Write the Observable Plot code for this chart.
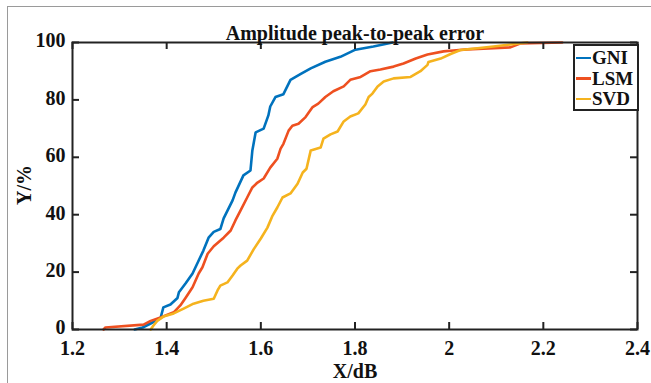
<!DOCTYPE html>
<html>
<head>
<meta charset="utf-8">
<script src="https://cdn.jsdelivr.net/npm/d3@7"></script>
<script src="https://cdn.jsdelivr.net/npm/@observablehq/plot@0.6"></script>
<style>
  html, body { margin: 0; padding: 0; background: #fff; }
  #wrap { position: relative; width: 651px; height: 383px; overflow: hidden; }
  #bt { position: absolute; left: 7px; top: 6px; width: 644px; height: 1px; background: #9a9a9a; }
  #bl { position: absolute; left: 7px; top: 6px; width: 1px; height: 377px; background: #9a9a9a; }
  #legend { position: absolute; left: 573px; top: 44px; width: 62px; height: 63px; border: 2px solid #222; background: #fff;
            font-family: "Liberation Serif", serif; font-weight: bold; font-size: 19px; color: #111; }
  .row { position: absolute; left: 0; height: 20px; display: flex; align-items: center; }
  .sw { width: 15px; height: 2.5px; margin-left: 1px; margin-right: 1px; }
</style>
</head>
<body>
<div id="wrap">
  <div id="bt"></div><div id="bl"></div>
  <div id="chart"></div>
  <div id="legend"></div>
</div>
<script>
const title = "Amplitude peak-to-peak error";
const xLabel = "X/dB";
const yLabel = "Y/%";
const xTicks = [1.2, 1.4, 1.6, 1.8, 2, 2.2, 2.4];
const yTicks = [0, 20, 40, 60, 80, 100];
const seriesNames = ["GNI", "LSM", "SVD"];
const colors = ["#0072BD", "#EE5020", "#F5B31E"];

const gniX = [1.332,1.349,1.365,1.387,1.393,1.408,1.423,1.426,1.44,1.455,1.465,1.478,1.489,1.50,1.514,1.521,1.540,1.546,1.563,1.578,1.582,1.589,1.606,1.616,1.62,1.631,1.648,1.663,1.684,1.706,1.737,1.769,1.801,1.839,1.88];
const gniY = [0,0.7,2,4,7.7,8.7,11,13,16,19.5,23,27.5,32,34,35,38.7,45,47.7,53.7,55.4,62.4,68.7,70,74.6,77.7,81,82,87,89,91,93.3,95,97.5,98.6,100];

const lsmX = [1.266,1.27,1.351,1.366,1.387,1.415,1.429,1.44,1.455,1.468,1.476,1.487,1.50,1.521,1.536,1.546,1.557,1.571,1.582,1.593,1.606,1.62,1.635,1.642,1.648,1.659,1.667,1.68,1.695,1.71,1.722,1.737,1.754,1.776,1.79,1.812,1.833,1.854,1.882,1.903,1.929,1.954,1.988,2.009,2.039,2.13,2.152,2.24];
const lsmY = [0,0.7,1.7,3,4.2,6,8.4,11,14.7,19.5,21.7,26.4,29,32,34.5,38,41.5,46,49.5,51.2,52.6,56.4,59.5,63,64.7,69.3,71,71.7,74,77.5,78.7,81,83,84.7,87,88,90,90.6,91.6,92.7,94.4,95.8,96.9,97.2,97.6,98.3,99.7,100];

const svdX = [1.366,1.372,1.38,1.393,1.415,1.436,1.457,1.478,1.50,1.508,1.514,1.529,1.54,1.55,1.557,1.571,1.585,1.60,1.614,1.625,1.635,1.646,1.663,1.678,1.689,1.697,1.706,1.727,1.733,1.748,1.763,1.776,1.79,1.807,1.822,1.829,1.837,1.848,1.861,1.882,1.918,1.939,1.954,1.956,1.982,2.003,2.024,2.06,2.094,2.13,2.166];
const svdY = [0,1.4,3,4.5,5.6,7.3,9,10,10.7,13.6,15.3,16.4,18.8,21.2,22.3,24,28,31.7,35.5,39.7,42.5,46,47.4,50.8,54.7,56,62.4,63.4,66.5,68,69,72.5,74.2,75.3,78.4,81,82.2,84.7,86.4,87.5,88,90,92.2,93.2,94.4,96,97.4,98,98.6,99.3,100];

const toRows = (xs, ys) => xs.map((x, i) => ({x, y: ys[i]}));
const series = [toRows(gniX, gniY), toRows(lsmX, lsmY), toRows(svdX, svdY)];

const W = 651, H = 383, mL = 72, mR = 14, mT = 42, mB = 54;
const innerW = W - mL - mR, innerH = H - mT - mB;
const tickLen = 7;
const ink = "#222";

const chart = Plot.plot({
  width: W, height: H,
  marginLeft: mL, marginRight: mR, marginTop: mT, marginBottom: mB,
  x: {domain: [1.2, 2.4]},
  y: {domain: [0, 100]},
  style: {fontFamily: "'Liberation Serif', serif", fontWeight: "bold", fontSize: "20px", color: "#111", background: "transparent", overflow: "visible"},
  marks: [
    ...series.map((s, i) => Plot.line(s, {x: "x", y: "y", stroke: colors[i], strokeWidth: 2.6})),
    Plot.frame({stroke: ink, strokeWidth: 2}),
    Plot.tickX(xTicks, {x: d => d, insetTop: innerH - tickLen, stroke: ink, strokeWidth: 2}),
    Plot.tickX(xTicks, {x: d => d, insetBottom: innerH - tickLen, stroke: ink, strokeWidth: 2}),
    Plot.tickY(yTicks, {y: d => d, insetRight: innerW - tickLen, stroke: ink, strokeWidth: 2}),
    Plot.tickY(yTicks, {y: d => d, insetLeft: innerW - tickLen, stroke: ink, strokeWidth: 2}),
    Plot.axisX(xTicks, {tickSize: 0, tickPadding: 11, tickFormat: d => String(d), label: null, fontSize: 20}),
    Plot.axisY(yTicks, {tickSize: 0, tickPadding: 7, dy: -1.5, tickFormat: d => String(d), label: null, fontSize: 20}),
    Plot.text([title], {frameAnchor: "top", dy: -9, lineAnchor: "middle", fontSize: 20, fontWeight: "bold", fill: "#111"}),
    Plot.text([xLabel], {frameAnchor: "bottom", dy: 42, lineAnchor: "middle", fontSize: 20, fontWeight: "bold", fill: "#111"}),
    Plot.text([yLabel], {frameAnchor: "left", dx: -48, dy: -1, rotate: -90, textAnchor: "middle", lineAnchor: "middle", fontSize: 20, fontWeight: "bold", fill: "#111"})
  ]
});
document.getElementById("chart").appendChild(chart);

const legend = document.getElementById("legend");
seriesNames.forEach((name, i) => {
  const row = document.createElement("div");
  row.className = "row";
  row.style.top = (2 + i * 20.5) + "px";
  const sw = document.createElement("div");
  sw.className = "sw";
  sw.style.background = colors[i];
  const t = document.createElement("span");
  t.textContent = name;
  row.appendChild(sw); row.appendChild(t);
  legend.appendChild(row);
});
</script>
</body>
</html>
